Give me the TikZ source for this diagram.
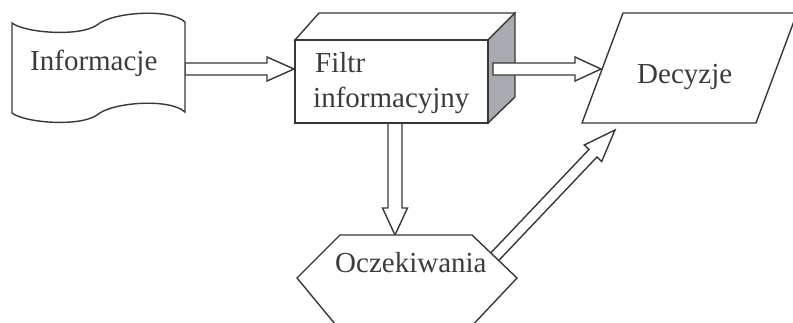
\documentclass[tikz,border=0pt]{standalone}
\usepackage{fontspec}
\setmainfont{Liberation Serif}
\usetikzlibrary{calc}

\definecolor{ink}{HTML}{383838}
\definecolor{textink}{HTML}{3C3C3C}
\definecolor{sideface}{HTML}{A7AAAE}

\tikzset{
  outline/.style={draw=ink, line width=1.4pt, line join=miter},
  shapebox/.style={outline, fill=white},
  arrowbody/.style={outline, fill=white},
  label/.style={inner sep=0pt, anchor=base west, text=textink,
                font=\fontsize{29}{35}\selectfont},
}

% hollow block arrow: #1 tail, #2 tip, #3 shaft half width,
% #4 head half width, #5 head length
\newcommand\blockarrow[5]{%
  \coordinate (ba-h) at ($(#2)!#5!(#1)$);
  \path[arrowbody]
    ($(#1)!#3!90:(#2)$) -- ($(ba-h)!#3!90:(#2)$) -- ($(ba-h)!#4!90:(#2)$)
    -- (#2)
    -- ($(ba-h)!#4!-90:(#2)$) -- ($(ba-h)!#3!-90:(#2)$) -- ($(#1)!#3!-90:(#2)$)
    -- cycle;
}

\begin{document}
\begin{tikzpicture}[x=1pt, y=-1pt]
  \useasboundingbox (0,0) rectangle (793,322);
  \clip (0,0) rectangle (793,322);

  % anchor points on the outlines
  \coordinate (info-e)  at (185,69);
  \coordinate (filtr-w) at (294,69);
  \coordinate (filtr-e) at (493,69);
  \coordinate (dec-w)   at (601,69);
  \coordinate (filtr-s) at (395,123);
  \coordinate (ocz-n)   at (395,235);
  \coordinate (ocz-ne)  at (485,267);
  \coordinate (dec-s)   at (615,130);

  % connectors lying under the shapes
  \blockarrow{info-e}{filtr-w}{6pt}{12pt}{27pt}
  \blockarrow{filtr-s}{ocz-n}{7pt}{12.5pt}{27pt}
  \blockarrow{ocz-ne}{dec-s}{5.5pt}{12pt}{32pt}

  % punched tape: Informacje
  \path[shapebox] (12,23) .. controls (25,33) and (80,37) .. (97,25)
    .. controls (112,12) and (170,8) .. (185,22) -- (185,112)
    .. controls (170,98) and (112,102) .. (97,115)
    .. controls (80,127) and (25,123) .. (12,113) -- cycle;
  \node[label] (info) at (30,70) {Informacje};

  % 3-D block: Filtr informacyjny
  \path[shapebox] (295,40) -- (319,13) -- (515,13) -- (488,40) -- cycle;
  \path[outline, fill=sideface] (488,40) -- (515,13) -- (515,97) -- (488,123) -- cycle;
  \path[shapebox] (295,40) rectangle (488,123);
  \node[label] (filtr) at (315,72) {Filtr};
  \node[label] (filtr2) at (313,107) {informacyjny};

  % arrow from the block to the decision
  \blockarrow{filtr-e}{dec-w}{6pt}{12pt}{26pt}

  % parallelogram: Decyzje
  \path[shapebox] (582,123) -- (623,13) -- (797,13) -- (756,123) -- cycle;
  \node[label] (dec) at (637,83) {Decyzje};

  % hexagon: Oczekiwania
  \path[shapebox] (297,278) -- (340,235) -- (472,235) -- (517,278)
    -- (468,330) -- (340,330) -- cycle;
  \node[label] (ocz) at (335,272) {Oczekiwania};
\end{tikzpicture}
\end{document}
